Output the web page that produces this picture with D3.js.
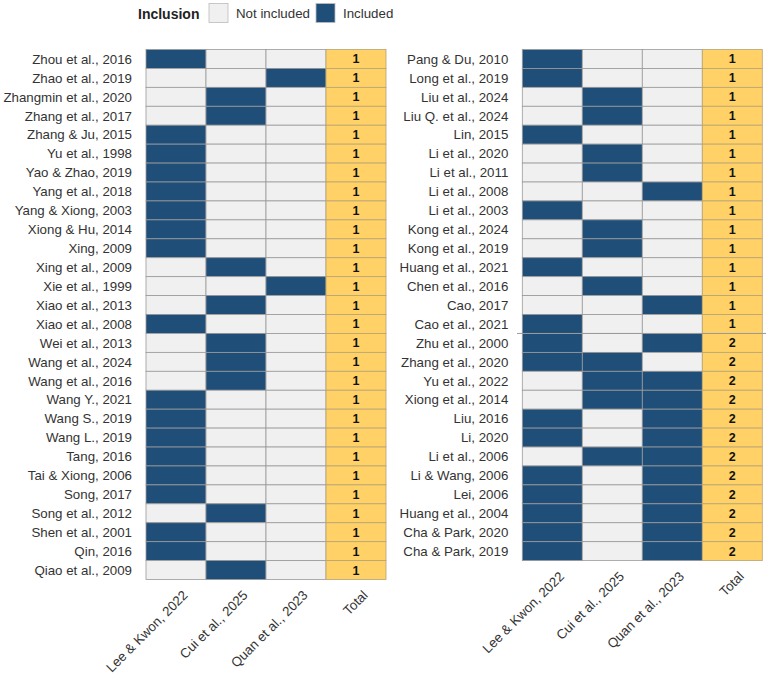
<!DOCTYPE html>
<html>
<head>
<script src="https://d3js.org/d3.v7.min.js"></script>
<style>
  body { margin: 0; background: #fff; }
  text { font-family: "Liberation Sans", Arial, sans-serif; }
</style>
</head>
<body>
<div id="container"></div>
<script>
// reviews (columns)
var reviews = ["Lee & Kwon, 2022", "Cui et al., 2025", "Quan et al., 2023"];

// left panel studies and which review included them (L, C, Q)
var leftStudies = ["Zhou et al., 2016", "Zhao et al., 2019", "Zhangmin et al., 2020", "Zhang et al., 2017",
  "Zhang & Ju, 2015", "Yu et al., 1998", "Yao & Zhao, 2019", "Yang et al., 2018", "Yang & Xiong, 2003",
  "Xiong & Hu, 2014", "Xing, 2009", "Xing et al., 2009", "Xie et al., 1999", "Xiao et al., 2013",
  "Xiao et al., 2008", "Wei et al., 2013", "Wang et al., 2024", "Wang et al., 2016", "Wang Y., 2021",
  "Wang S., 2019", "Wang L., 2019", "Tang, 2016", "Tai & Xiong, 2006", "Song, 2017", "Song et al., 2012",
  "Shen et al., 2001", "Qin, 2016", "Qiao et al., 2009"];
var leftIncl = ["L", "Q", "C", "C", "L", "L", "L", "L", "L", "L", "L", "C", "Q", "C", "L", "C", "C", "C",
  "L", "L", "L", "L", "L", "L", "C", "L", "L", "C"];

var rightStudies = ["Pang & Du, 2010", "Long et al., 2019", "Liu et al., 2024", "Liu Q. et al., 2024",
  "Lin, 2015", "Li et al., 2020", "Li et al., 2011", "Li et al., 2008", "Li et al., 2003", "Kong et al., 2024",
  "Kong et al., 2019", "Huang et al., 2021", "Chen et al., 2016", "Cao, 2017", "Cao et al., 2021",
  "Zhu et al., 2000", "Zhang et al., 2020", "Yu et al., 2022", "Xiong et al., 2014", "Liu, 2016", "Li, 2020",
  "Li et al., 2006", "Li & Wang, 2006", "Lei, 2006", "Huang et al., 2004", "Cha & Park, 2020", "Cha & Park, 2019"];
var rightIncl = ["L", "L", "C", "C", "L", "C", "C", "Q", "L", "C", "C", "L", "C", "Q", "L",
  "LQ", "LC", "CQ", "CQ", "LQ", "LQ", "CQ", "LQ", "LQ", "LQ", "LQ", "LQ"];

var codes = ["L", "C", "Q"];
var columns = reviews.concat(["Total"]);

var navy = "#1f4e79", light = "#f0f0f0", gold = "#ffd166";
var rowH = 18.93;
var fs = 13.3;

var svg = d3.select("#container").append("svg")
  .attr("width", 767).attr("height", 680);

function panel(x0, studies, incl) {
  var top = 49.5;
  var x = d3.scaleBand().domain(columns).range([x0, x0 + 240]);
  var y = d3.scaleBand().domain(studies).range([top, top + rowH * studies.length]);
  var g = svg.append("g");

  var cells = [];
  studies.forEach(function (s, i) {
    codes.forEach(function (c, j) {
      cells.push({ study: s, col: reviews[j], on: incl[i].indexOf(c) >= 0 });
    });
  });

  g.selectAll("rect.cell").data(cells).join("rect")
    .attr("class", "cell")
    .attr("x", d => x(d.col)).attr("y", d => y(d.study))
    .attr("width", x.bandwidth()).attr("height", y.bandwidth())
    .attr("fill", d => d.on ? navy : light)
    .attr("stroke", "#9a9a9a").attr("stroke-width", 0.8);

  g.selectAll("rect.tot").data(studies).join("rect")
    .attr("class", "tot")
    .attr("x", x("Total")).attr("y", d => y(d))
    .attr("width", x.bandwidth()).attr("height", y.bandwidth())
    .attr("fill", gold)
    .attr("stroke", "#b5a477").attr("stroke-width", 0.8);

  g.selectAll("text.tot").data(studies).join("text")
    .attr("class", "tot")
    .attr("x", x("Total") + x.bandwidth() / 2)
    .attr("y", d => y(d) + y.bandwidth() / 2)
    .attr("dy", "0.36em")
    .attr("text-anchor", "middle")
    .attr("font-size", 12.5).attr("font-weight", "bold").attr("fill", "#111")
    .text((d, i) => incl[i].length);

  // row labels
  g.selectAll("text.lab").data(studies).join("text")
    .attr("class", "lab")
    .attr("x", x0 - 14)
    .attr("y", d => y(d) + y.bandwidth() / 2)
    .attr("dy", "0.36em")
    .attr("text-anchor", "end")
    .attr("font-size", fs).attr("fill", "#333")
    .text(d => d);

  // column labels
  var bottom = top + rowH * studies.length;
  g.selectAll("text.col").data(columns).join("text")
    .attr("class", "col")
    .attr("transform", d => `translate(${x(d) + x.bandwidth() / 2 + 6},${bottom + 10}) rotate(-45)`)
    .attr("text-anchor", "end")
    .attr("dy", "0.7em")
    .attr("font-size", fs).attr("fill", "#333")
    .text(d => d);

  return { x: x, y: y };
}

panel(146, leftStudies, leftIncl);
var rp = panel(522.3, rightStudies, rightIncl);

// separator between single and double inclusion groups
var firstTwo = rightStudies[rightIncl.findIndex(d => d.length == 2)];
svg.append("line")
  .attr("x1", 517).attr("x2", 766)
  .attr("y1", rp.y(firstTwo)).attr("y2", rp.y(firstTwo))
  .attr("stroke", "#999").attr("stroke-width", 1);

// legend
var leg = svg.append("g");
leg.append("text").attr("x", 138).attr("y", 19).attr("font-size", 14)
  .attr("font-weight", "bold").attr("fill", "#222").text("Inclusion");
var items = [{ label: "Not included", fill: light, x: 209 }, { label: "Included", fill: navy, x: 316 }];
items.forEach(function (it) {
  leg.append("rect").attr("x", it.x).attr("y", 3.5).attr("width", 19).attr("height", 19)
    .attr("fill", it.fill).attr("stroke", "#bbb").attr("stroke-width", 0.8);
  leg.append("text").attr("x", it.x + 27).attr("y", 18).attr("font-size", fs)
    .attr("fill", "#333").text(it.label);
});
</script>
</body>
</html>
